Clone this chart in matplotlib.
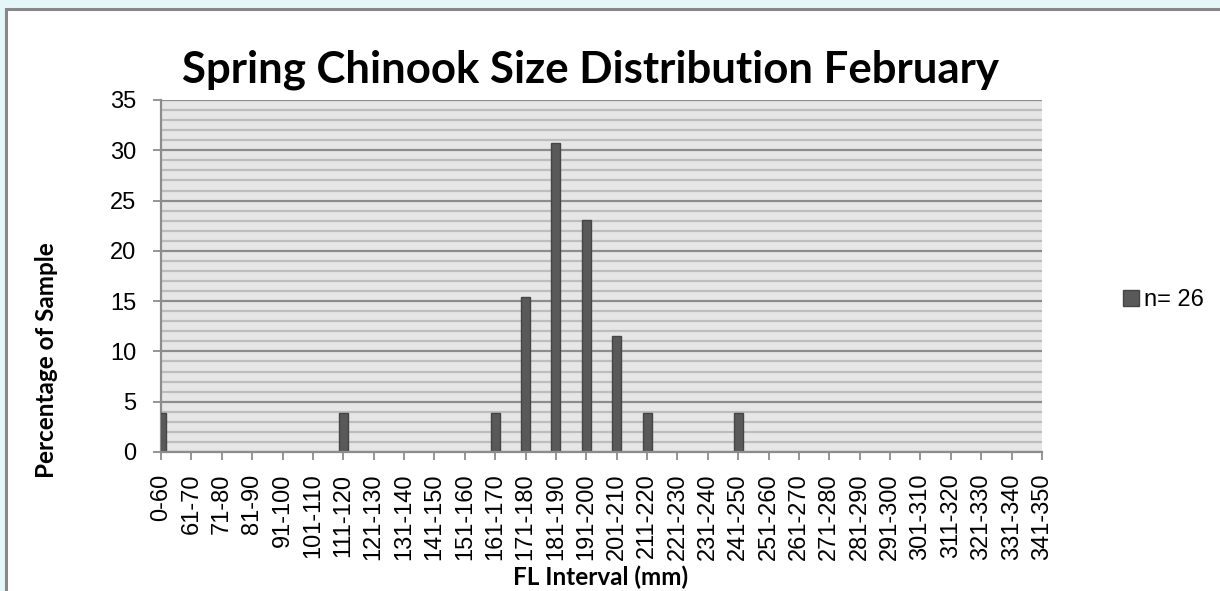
import matplotlib
matplotlib.use("Agg")
import matplotlib.pyplot as plt
from matplotlib.patches import Rectangle
import numpy as np

categories = ["0-60"] + [f"{a}-{a+9}" for a in range(61, 342, 10)]
# percentage of sample per FL interval (n = 26)
values = [3.85, 0, 0, 0, 0, 0, 3.85, 0, 0, 0, 0, 3.85, 15.38, 30.77, 23.08,
          11.54, 3.85, 0, 0, 3.85, 0, 0, 0, 0, 0, 0, 0, 0, 0, 0]
series_name = "n= 26"
title = "Spring Chinook Size Distribution February"
ylabel = "Percentage of Sample"
xlabel = "FL Interval (mm)"

plt.rcParams['font.family'] = ['Liberation Sans', 'DejaVu Sans']
bold_font = ['Lato', 'DejaVu Sans']

fig = plt.figure(figsize=(12.2, 5.91), dpi=100)
W, H = 1220, 591

# background strips & chart frame
fig.patches.append(Rectangle((0, 0), 1, 1, transform=fig.transFigure,
                             facecolor="#E4F6F8", edgecolor="none", zorder=-10))
fig.patches.append(Rectangle((5.5 / W, -0.1), 1.2, 1 - 8.5 / H + 0.1,
                             transform=fig.transFigure, facecolor="white",
                             edgecolor="#878787", linewidth=2.2, zorder=-9))

ax = fig.add_axes([161 / W, 1 - 452 / H, (1042 - 161) / W, (452 - 100) / H])
ax.set_facecolor("#E6E6E6")
x = np.arange(len(categories))
ax.bar(x, values, width=0.3, color="#595959", edgecolor="#454545",
       linewidth=1.0, zorder=3, label=series_name)
ax.set_xlim(0, len(categories) - 1)
ax.set_ylim(0, 35)

for v in range(0, 36):
    if v % 5 == 0:
        ax.axhline(v, color="#8C8C8C", lw=1.6, zorder=1)
    else:
        ax.axhline(v, color="#BDBDBD", lw=1.6, zorder=1)

ax.set_yticks(range(0, 36, 5))
ax.set_xticks(x)
ax.set_xticklabels(categories, rotation=90, fontsize=17)
ax.tick_params(axis='y', labelsize=17, length=6, width=1.3, color="#8C8C8C",
               pad=12)
ax.tick_params(axis='x', length=5.5, width=1.3, color="#8C8C8C", pad=10)
for s in ["top", "right"]:
    ax.spines[s].set_visible(False)
for s in ["left", "bottom"]:
    ax.spines[s].set_color("#8C8C8C")
    ax.spines[s].set_linewidth(1.6)
ax.spines["bottom"].set_zorder(5)

fig.text(590 / W, 1 - 70 / H, title, ha="center", va="center",
         fontsize=31.5, fontweight="bold", family=bold_font)
fig.text(601 / W, 1 - 577 / H, xlabel, ha="center", va="center",
         fontsize=17.5, fontweight="bold", family=bold_font)
fig.text(46 / W, 1 - 360 / H, ylabel, ha="center", va="center",
         rotation=90, fontsize=17.5, fontweight="bold", family=bold_font)

leg = fig.legend(loc="center left", bbox_to_anchor=(1102 / W, 1 - 300 / H),
                 frameon=False, fontsize=17, handlelength=0.65,
                 handleheight=0.65, handletextpad=0.25)

fig.savefig("out.png", dpi=100)
